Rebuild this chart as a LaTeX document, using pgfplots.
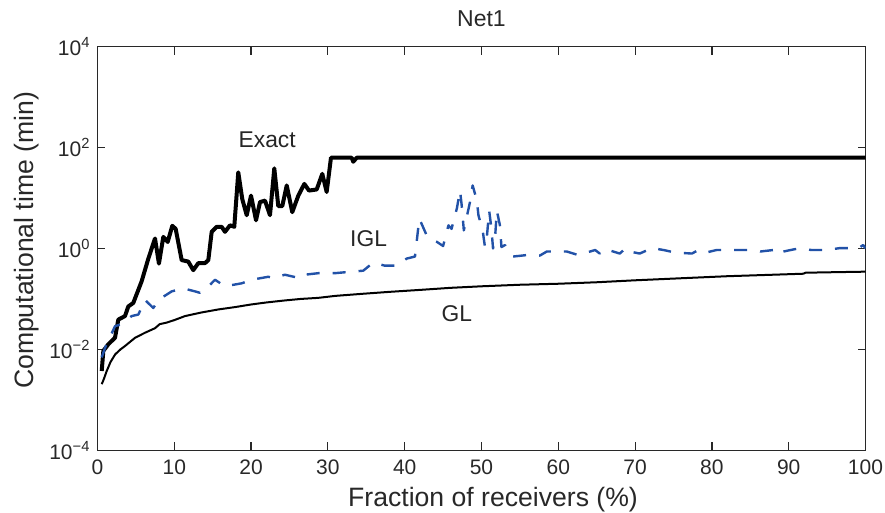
\documentclass[border=0pt]{standalone}
\usepackage{fontspec}
\setmainfont{Liberation Sans}
\usepackage{pgfplots}
\pgfplotsset{compat=1.18}
\definecolor{iglblue}{RGB}{34,82,168}
\definecolor{axgray}{RGB}{40,40,40}
\begin{document}
\begin{tikzpicture}
\useasboundingbox (-48.75pt,-31pt) rectangle (393.75pt,225.1pt);
\begin{axis}[
  at={(0,0)}, anchor=south west,
  scale only axis, width=384pt, height=201.7pt,
  xmin=0, xmax=100, ymode=log, ymin=1e-4, ymax=1e4,
  xtick={0,10,...,100},
  ytick={1e-4,1e-2,1,1e2,1e4},
  yticklabels={10\textsuperscript{−4},10\textsuperscript{−2},10\textsuperscript{0},10\textsuperscript{2},10\textsuperscript{4}},
  yminorticks=false,
  tick align=inside, major tick length=4pt,
  /pgf/number format/assume math mode=true,
  tick label style={font=\fontsize{10.5}{12}\selectfont, text=axgray},
  xticklabel style={yshift=-1.5pt},
  every axis title shift=0pt,
  title={Net1},
  title style={font=\fontsize{11.5}{13}\selectfont, at={(axis description cs:0.5,1)}, anchor=base, yshift=10pt, text=axgray},
  xlabel={Fraction of receivers (\%)},
  xlabel style={font=\fontsize{13.3}{15}\selectfont, at={(axis description cs:0.515,0)}, anchor=base, yshift=-28pt, text=axgray},
  ylabel={Computational time (min)},
  ylabel style={font=\fontsize{13.3}{15}\selectfont, at={(axis description cs:-0.0922,0.52)}, anchor=center, text=axgray},
  axis line style={line width=0.6pt, axgray},
  every tick/.style={line width=0.6pt, axgray},
  line join=round,
]
\addplot[black, line width=2pt] coordinates {
(0.55,0.00372) (0.76,0.00933) (1.41,0.0126) (2.28,0.0170) (2.71,0.0389) (3.58,0.0457)
(4.01,0.0708) (4.66,0.0832) (5.75,0.224) (6.62,0.631) (7.49,1.58) (8.0,0.501)
(8.57,1.70) (9.14,1.35) (9.74,2.82) (10.18,2.45) (10.96,0.589) (11.82,0.550)
(12.47,0.372) (13.13,0.513) (14.0,0.513) (14.43,0.589) (14.87,2.14) (15.52,2.69)
(16.17,2.69) (16.6,2.14) (17.25,2.88) (17.81,2.69) (18.33,32.4) (18.85,9.55)
(19.43,4.57) (19.99,11.2) (20.64,3.63) (21.16,8.32) (21.81,8.91) (22.46,4.57)
(23.02,38.9) (23.54,6.92) (24.06,6.92) (24.64,17.8) (25.36,5.25) (26.15,11.2)
(26.93,19.1) (27.54,14.1) (28.54,14.8) (29.27,30.2) (29.84,13.2) (30.4,63.1)
(33.1,63.1) (33.3,52.5) (33.75,63.1) (100,63.1)
};
\addplot[iglblue, line width=1.2pt, dash pattern=on 6.5pt off 6.5pt] coordinates {
(0.55,0.00692) (0.98,0.0107) (2.28,0.0288) (2.93,0.0309) (4.45,0.0457) (5.32,0.0490)
(6.18,0.0955) (7.27,0.0661) (7.92,0.0955) (9.66,0.141) (11.18,0.162) (12.7,0.141)
(13.35,0.132) (14.0,0.151) (15.3,0.240) (16.6,0.178) (18.78,0.204) (20.08,0.240)
(22.24,0.275) (22.9,0.257) (24.4,0.302) (26.37,0.257) (27.0,0.302) (28.75,0.324)
(30.9,0.324) (33.1,0.347) (34.6,0.363) (35.9,0.525) (37.4,0.457) (38.96,0.457)
(40.26,0.631) (41.34,0.692) (41.9,3.89) (42.2,3.09) (42.95,1.70) (43.7,1.45)
(44.2,1.35) (45.0,1.12) (45.7,2.88) (46.1,2.45) (46.8,6.31) (47.2,14.1)
(47.4,7.76) (47.7,2.29) (48.5,8.32) (48.85,17.8) (49.4,8.91) (49.6,4.57)
(50.15,2.29) (50.45,1.07) (50.7,1.70) (51.0,5.62) (51.3,2.45) (51.5,1.0)
(51.76,1.58) (52.0,5.62) (52.4,2.88) (52.6,1.07) (53.06,1.17) (54.1,0.692)
(55.9,0.741) (57.6,0.724) (58.5,0.871) (61.1,0.871) (62.6,0.741) (64.8,0.933)
(65.4,0.794) (66.1,0.977) (68.0,0.794) (68.8,1.02) (69.3,0.871) (70.6,0.794)
(72.2,1.02) (73.7,0.933) (75.2,0.832) (77.4,0.794) (78.0,0.891) (78.7,0.794)
(80.6,0.933) (82.4,0.933) (84.5,0.933) (85.6,0.933) (86.3,0.871) (88.0,0.933)
(88.6,1.07) (89.3,0.871) (91.25,1.0) (93.0,0.933) (94.9,0.933) (96.7,1.02)
(99.1,1.02) (99.7,1.17) (100,1.0)
};
\addplot[black, line width=1pt] coordinates {
(0.55,0.00204) (0.8,0.00251) (1.2,0.00372) (1.7,0.00562) (2.3,0.00794) (3.0,0.0100)
(3.6,0.0117) (4.9,0.0170) (6.2,0.0214) (7.5,0.0263) (8.1,0.0316) (9,0.0339)
(10,0.0380) (11.4,0.0457) (13.5,0.0537) (15.7,0.0617) (18,0.0692) (20,0.0776)
(22,0.0851) (24.4,0.0933) (26.5,0.100) (28.75,0.105) (31,0.115) (34.4,0.126)
(38,0.138) (42,0.151) (46,0.166) (50,0.178) (55,0.191) (60,0.200)
(65,0.214) (70,0.234) (76,0.257) (82,0.282) (88,0.302) (91.9,0.316)
(92.2,0.331) (96,0.339) (100,0.347)
};
\node[font=\fontsize{11.4}{13}\selectfont, text=black!85] at (axis cs:22.1,146) {Exact};
\node[font=\fontsize{11.4}{13}\selectfont, text=black!85] at (axis cs:35.3,1.57) {IGL};
\node[font=\fontsize{11.4}{13}\selectfont, text=black!85] at (axis cs:46.8,0.0503) {GL};
\end{axis}
\end{tikzpicture}
\end{document}
